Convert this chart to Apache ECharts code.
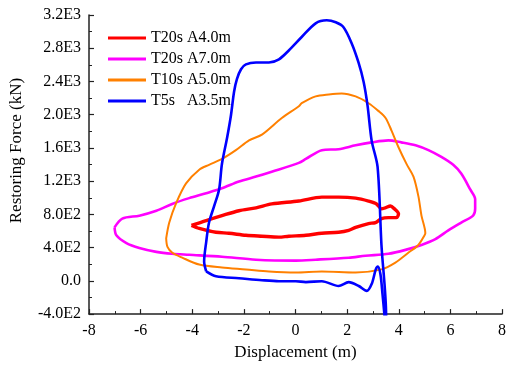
<!DOCTYPE html>
<html>
<head>
<meta charset="utf-8">
<script src="https://cdn.jsdelivr.net/npm/echarts@6/dist/echarts.min.js"></script>
<style>
  html, body { margin: 0; padding: 0; background: #fff; }
  #chart { width: 509px; height: 366px; }
</style>
</head>
<body>
<div id="chart"></div>
<script>
// hysteresis loops, [displacement m, force kN]
const seriesNames = ['T20s A4.0m', 'T20s A7.0m', 'T10s A5.0m', 'T5s   A3.5m'];

const redLoop = [
  [-4.03, 667], [-3.46, 726], [-2.85, 785], [-2.19, 844], [-1.53, 879], [-0.92, 926],
  [0.13, 961], [1.02, 1008], [1.67, 1008], [2.33, 996], [2.83, 961], [3.14, 926],
  [3.33, 867], [3.48, 879], [3.68, 902], [3.83, 867], [3.99, 808], [3.91, 761],
  [3.60, 761], [3.33, 749], [3.10, 702], [2.83, 690], [2.33, 644], [2.06, 608],
  [1.67, 585], [1.02, 573], [0.40, 549], [-0.26, 537], [-0.64, 526], [-1.30, 537],
  [-1.92, 549], [-2.58, 573], [-3.08, 585], [-3.73, 632], [-4.03, 667]
];

const magentaLoop = [
  [-7.01, 644], [-6.71, 749], [-6.05, 785], [-5.39, 844], [-4.78, 926], [-4.12, 996],
  [-3.46, 1055], [-2.85, 1114], [-2.19, 1196], [-1.53, 1255], [-0.92, 1314], [0.13, 1420],
  [0.40, 1467], [1.02, 1573], [1.67, 1585], [2.33, 1632], [2.95, 1667], [3.60, 1691],
  [4.10, 1667], [4.65, 1632], [5.15, 1573], [5.65, 1491], [6.11, 1397], [6.42, 1291],
  [6.77, 1100], [6.96, 984], [6.96, 867], [6.88, 785], [6.42, 702], [5.92, 608],
  [5.42, 502], [4.88, 432], [4.26, 373], [3.60, 326], [2.71, 302], [2.06, 279],
  [0.78, 255], [0.01, 244], [-1.53, 255], [-2.85, 291], [-4.12, 314], [-4.78, 326],
  [-5.39, 349], [-6.05, 396], [-6.55, 455], [-6.94, 549], [-7.01, 644]
];

const orangeLoop = [
  [-5.01, 512], [-4.89, 702], [-4.62, 938], [-4.24, 1173], [-3.73, 1338], [-3.35, 1397],
  [-2.85, 1467], [-2.31, 1573], [-1.80, 1691], [-1.30, 1761], [-0.53, 1961], [0.13, 2102],
  [0.24, 2138], [0.78, 2220], [1.29, 2244], [1.79, 2256], [2.33, 2220], [2.83, 2138],
  [3.22, 2043], [3.49, 1961], [3.72, 1808], [3.99, 1608], [4.30, 1408], [4.57, 1255],
  [4.76, 1020], [4.88, 785], [5.03, 573], [5.00, 549], [4.76, 432], [4.37, 338],
  [3.87, 220], [3.33, 138], [2.33, 102], [1.02, 114], [0.01, 102], [-1.03, 114],
  [-1.92, 138], [-2.85, 161], [-3.73, 196], [-4.39, 279], [-4.77, 338], [-4.96, 408],
  [-5.01, 512]
];

const blueLoop = [
  [-3.46, 114], [-3.08, 55], [-2.19, 32], [-1.30, 8], [-0.64, -4], [0.01, -4],
  [0.40, -15], [1.02, -4], [1.67, -62], [2.06, -15], [2.45, -62], [2.76, -121],
  [2.95, -39], [3.11, 138], [3.19, 173], [3.29, 79], [3.37, -156], [3.44, -392],
  [3.50, -620], [3.51, -415], [3.33, 432], [3.18, 1371], [2.95, 1688], [2.79, 2112],
  [2.64, 2394], [2.44, 2629], [2.17, 2864], [1.86, 3053], [1.56, 3112], [1.21, 3136],
  [0.78, 3100], [0.24, 2935], [-0.26, 2773], [-0.64, 2667], [-1.03, 2629], [-1.53, 2629],
  [-1.92, 2606], [-2.11, 2547], [-2.27, 2429], [-2.38, 2277], [-2.50, 1994], [-2.65, 1723],
  [-2.85, 1406], [-2.96, 1100], [-3.15, 902], [-3.35, 702], [-3.46, 467], [-3.54, 232],
  [-3.46, 114]
];

const yTickLabels = ['-4.0E2', '0.0', '4.0E2', '8.0E2', '1.2E3', '1.6E3', '2.0E3', '2.4E3', '2.8E3', '3.2E3'];
const xTickLabels = ['-8', '-6', '-4', '-2', '0', '2', '4', '6', '8'];

const font = "'Liberation Serif', 'Times New Roman', serif";

const axisCommon = {
    axisLine: { onZero: false, lineStyle: { color: '#222', width: 1.5 } },
    axisTick: { inside: true, length: 5, lineStyle: { color: '#222', width: 1.2 } },
    minorTick: { show: true, splitNumber: 2, length: 3, lineStyle: { color: '#222', width: 1 } },
    splitLine: { show: false }
};

const makeSeries = (name, data, color, width) => ({
    name: name,
    type: 'line',
    data: data,
    showSymbol: false,
    smooth: 0.3,
    color: color,
    lineStyle: { color: color, width: width }
});

const options = {
    animation: false,
    grid: { left: 89, right: 6, top: 15, bottom: 45 },
    legend: {
        data: seriesNames,
        orient: 'vertical',
        left: 103,
        top: 25,
        icon: 'rect',
        itemWidth: 38,
        itemHeight: 3,
        itemGap: 5,
        textStyle: { fontFamily: font, fontSize: 16, color: '#000' }
    },
    xAxis: Object.assign({}, axisCommon, {
        type: 'value',
        min: -8,
        max: 8,
        interval: 2,
        name: 'Displacement (m)',
        nameLocation: 'middle',
        nameGap: 28,
        nameTextStyle: { fontFamily: font, fontSize: 17, color: '#000' },
        axisLabel: {
            fontFamily: font, fontSize: 16, color: '#000', margin: 9,
            formatter: (v) => xTickLabels[Math.round((v + 8) / 2)]
        }
    }),
    yAxis: Object.assign({}, axisCommon, {
        type: 'value',
        min: -400,
        max: 3200,
        interval: 400,
        name: 'Restoring Force (kN)',
        nameLocation: 'middle',
        nameGap: 64,
        nameTextStyle: { fontFamily: font, fontSize: 17, color: '#000', padding: [0, 0, 0, 28] },
        axisLabel: {
            fontFamily: font, fontSize: 16, color: '#000', margin: 8,
            formatter: (v) => yTickLabels[Math.round((v + 400) / 400)]
        }
    }),
    series: [
        makeSeries(seriesNames[1], magentaLoop, '#ff00ff', 2.6),
        makeSeries(seriesNames[0], redLoop, '#ff0000', 3.4),
        makeSeries(seriesNames[2], orangeLoop, '#ff8000', 2),
        makeSeries(seriesNames[3], blueLoop, '#0000ff', 2.6)
    ]
};

const chart = echarts.init(document.getElementById('chart'));
chart.setOption(options);
</script>
</body>
</html>
